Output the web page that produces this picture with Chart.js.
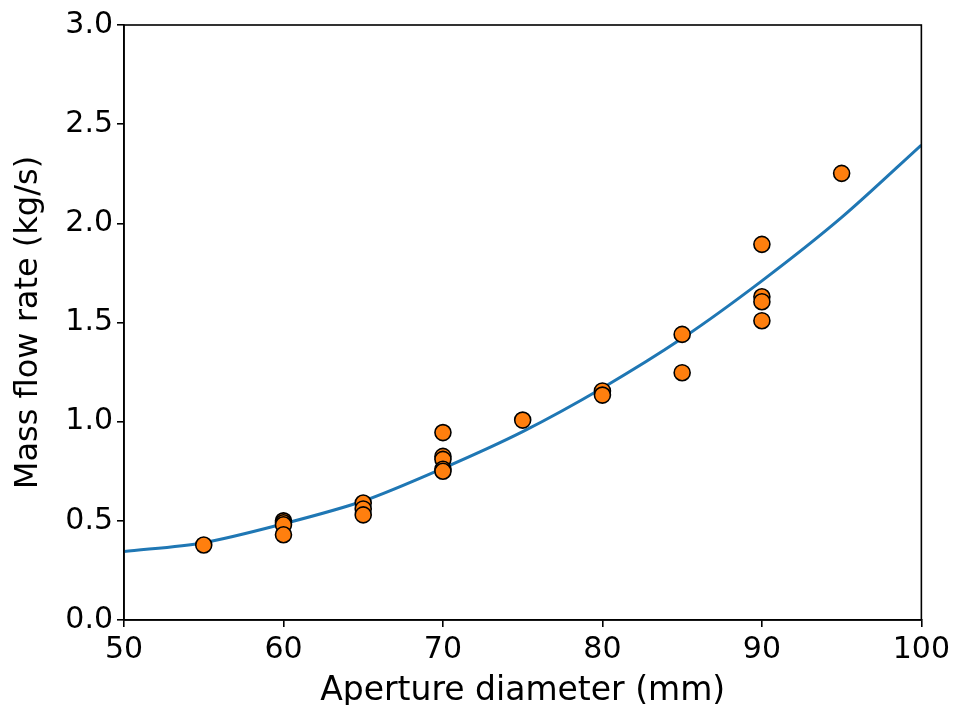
<!DOCTYPE html>
<html>
<head>
<meta charset="utf-8">
<script src="https://cdn.jsdelivr.net/npm/chart.js@4/dist/chart.umd.min.js"></script>
<style>
    html, body { margin: 0; padding: 0; background: #fff; }
    #wrap { width: 955px; height: 705px; }
</style>
</head>
<body>
<div id="wrap"><canvas id="grafica"></canvas></div>
<script>
// measured points
const diametros = [55, 60, 60, 60, 60, 65, 65, 65, 70, 70, 70, 70, 70, 75, 80, 80, 85, 85, 90, 90, 90, 90, 95];
const caudales = [0.378, 0.50, 0.49, 0.48, 0.43, 0.59, 0.56, 0.53, 0.945, 0.825, 0.81, 0.76, 0.75, 1.008, 1.155, 1.134, 1.44, 1.247, 1.894, 1.63, 1.605, 1.509, 2.252];

// fitted curve, read every 5 mm
const diametrosAjuste = [50, 55, 60, 65, 70, 75, 80, 85, 90, 95, 100];
const caudalesAjuste = [0.345, 0.39, 0.485, 0.60, 0.765, 0.95, 1.17, 1.42, 1.71, 2.03, 2.395];

const xTicks = [50, 60, 70, 80, 90, 100];
const yTicks = [0, 0.5, 1.0, 1.5, 2.0, 2.5, 3.0];

const fuente = 'DejaVu Sans';

const marco = {
    id: 'marco',
    afterDatasetsDraw(chart) {
        const { ctx, chartArea: a } = chart;
        ctx.save();
        ctx.strokeStyle = '#000';
        ctx.lineWidth = 1.6;
        ctx.strokeRect(a.left, a.top, a.right - a.left, a.bottom - a.top);
        ctx.restore();
    }
};

const ctx = document.getElementById('grafica').getContext('2d');
new Chart(ctx, {
    type: 'scatter',
    data: {
        datasets: [
            {
                label: 'Medido',
                data: diametros.map((d, i) => ({ x: d, y: caudales[i] })),
                backgroundColor: '#ff7f0e',
                borderColor: '#000',
                borderWidth: 1.6,
                pointRadius: 8,
                pointHoverRadius: 8
            },
            {
                label: 'Ajuste',
                type: 'line',
                data: diametrosAjuste.map((d, i) => ({ x: d, y: caudalesAjuste[i] })),
                borderColor: '#1f77b4',
                borderWidth: 3,
                pointRadius: 0,
                fill: false,
                tension: 0.3
            }
        ]
    },
    options: {
        responsive: true,
        maintainAspectRatio: false,
        animation: false,
        devicePixelRatio: 1,
        layout: { padding: { left: 0, right: 33, top: 25, bottom: 0 } },
        plugins: { legend: { display: false }, tooltip: { enabled: false } },
        scales: {
            x: {
                type: 'linear',
                min: 50,
                max: 100,
                afterBuildTicks: s => { s.ticks = xTicks.map(v => ({ value: v })); },
                afterFit: s => { s.height = 85; },
                grid: { display: true, drawOnChartArea: false, drawTicks: true, tickLength: 7, color: '#000', lineWidth: 1.6 },
                border: { display: true, color: '#000', width: 1.6 },
                ticks: { color: '#000', font: { family: fuente, size: 30 }, padding: 5, maxRotation: 0 },
                title: { display: true, text: 'Aperture diameter (mm)', color: '#000', font: { family: fuente, size: 33 }, padding: { top: 0, bottom: -6 } }
            },
            y: {
                type: 'linear',
                min: 0,
                max: 3,
                afterBuildTicks: s => { s.ticks = yTicks.map(v => ({ value: v })); },
                afterFit: s => { s.width = 124; },
                grid: { display: true, drawOnChartArea: false, drawTicks: true, tickLength: 7, color: '#000', lineWidth: 1.6 },
                border: { display: true, color: '#000', width: 1.6 },
                ticks: { color: '#000', font: { family: fuente, size: 30 }, padding: 4, callback: v => v.toFixed(1) },
                title: { display: true, text: 'Mass flow rate (kg/s)', color: '#000', font: { family: fuente, size: 32 }, padding: { top: 9, bottom: 0 } }
            }
        }
    },
    plugins: [marco]
});
</script>
</body>
</html>
